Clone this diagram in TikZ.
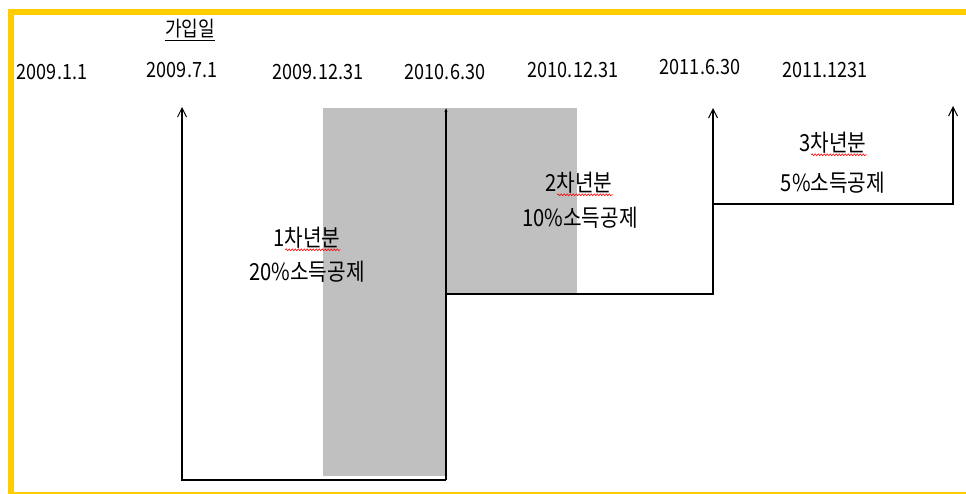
\documentclass[tikz,border=0pt]{standalone}
\usepackage{fontspec}
\setmainfont[FakeStretch=0.86]{Noto Sans CJK KR}
\usetikzlibrary{arrows.meta,decorations.pathmorphing}
\definecolor{ybord}{HTML}{FFCC00}
\definecolor{gbar}{HTML}{C0C0C0}
\tikzset{
  lbl/.style={inner sep=0pt, font=\fontsize{21}{24}\selectfont},
  blbl/.style={inner sep=0pt, font=\fontsize{23.5}{26}\selectfont},
  tl/.style={line width=1.7pt, black, line join=miter},
  arr/.style={-{Straight Barb[length=9pt,width=9pt,line width=1pt]}},
  smallarr/.style={-{Stealth[length=4pt,width=3pt]}},
  spell/.style={red, line width=0.6pt, decorate, decoration={snake, amplitude=0.9pt, segment length=3pt}}
}
\begin{document}
\begin{tikzpicture}[x=1pt,y=-1pt]
\useasboundingbox (0,0) rectangle (966,494);
\fill[white] (0,0) rectangle (966,494);
% border
\fill[ybord] (8,9) rectangle (966,15);
\fill[ybord] (8,9) rectangle (14,494);
\fill[ybord] (8,491.5) rectangle (966,494);
% gray bands
\fill[gbar] (323,108) rectangle (445,476);
\fill[gbar] (446,108) rectangle (577,294);
% coordinates
\coordinate (a1b) at (182,480);
\coordinate (a1t) at (182,107);
\coordinate (a2b) at (446,480);
\coordinate (a2t) at (446,108);
\coordinate (h2) at (446,294);
\coordinate (a3b) at (713,294);
\coordinate (a3t) at (713,108);
\coordinate (h3) at (713,204);
\coordinate (a4b) at (953,204);
\coordinate (a4t) at (953,106);
% lines
\draw[tl,arr] (a2b) -- (a1b) -- (a1t);
\draw[tl,smallarr] (a2b) -- (a2t);
\draw[tl,arr] (h2) -- (a3b) -- (a3t);
\draw[tl,arr] (h3) -- (a4b) -- (a4t);
% top labels
\node[lbl] (join) at (190,30) {\underline{가입일}};
\node[lbl] (d1) at (52,72) {2009.1.1};
\node[lbl] (d2) at (182,70) {2009.7.1};
\node[lbl] (d3) at (318,72) {2009.12.31};
\node[lbl] (d4) at (445,72) {2010.6.30};
\node[lbl] (d5) at (573,70) {2010.12.31};
\node[lbl] (d6) at (700,67) {2011.6.30};
\node[lbl] (d7) at (825,70) {2011.1231};
% band labels
\node[blbl] (y1) at (307,238) {1차년분};
\node[blbl] (p1) at (307,272) {20\%소득공제};
\node[blbl] (y2) at (579,183) {2차년분};
\node[blbl] (p2) at (580,218) {10\%소득공제};
\node[blbl] (y3) at (833,143) {3차년분};
\node[blbl] (p3) at (833,183) {5\%소득공제};
% spell-check underlines
\draw[spell] ([xshift=12pt,yshift=-3pt]y1.base west) -- ([yshift=-3pt]y1.base east);
\draw[spell] ([xshift=12pt,yshift=-3pt]y2.base west) -- ([yshift=-3pt]y2.base east);
\draw[spell] ([xshift=12pt,yshift=-3pt]y3.base west) -- ([yshift=-3pt]y3.base east);
\end{tikzpicture}
\end{document}
